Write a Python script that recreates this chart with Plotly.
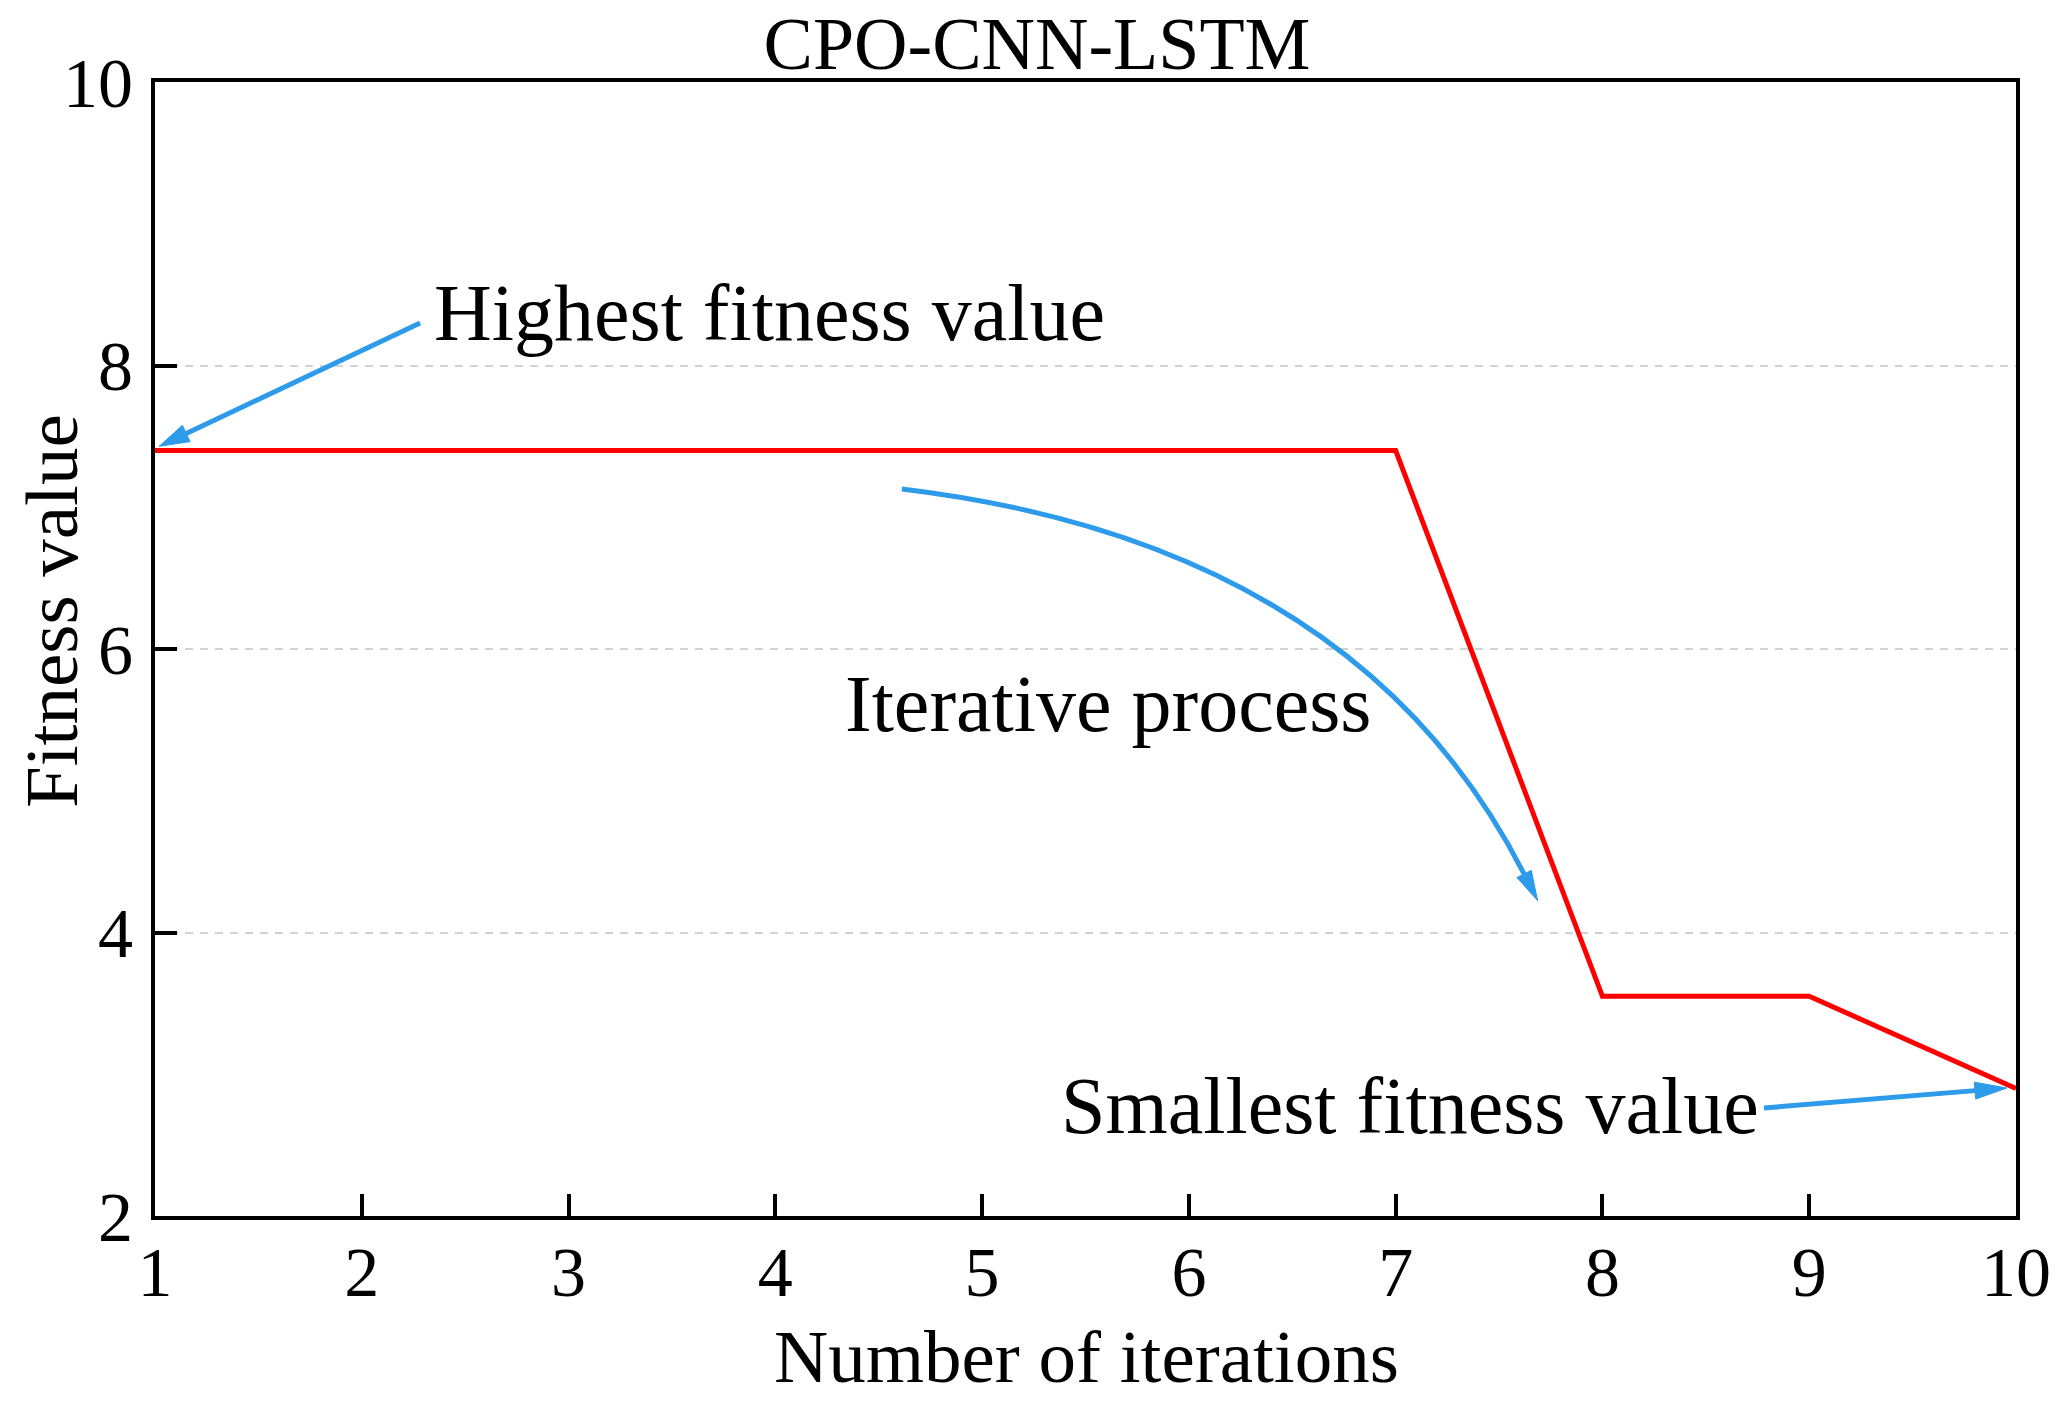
import numpy as np
import plotly.graph_objects as go

# ---- data ----
iterations = [1, 2, 3, 4, 5, 6, 7, 8, 9, 10]
fitness = [7.4, 7.4, 7.4, 7.4, 7.4, 7.4, 7.4, 3.55, 3.55, 2.9]
x_ticks = [1, 2, 3, 4, 5, 6, 7, 8, 9, 10]
y_ticks = [2, 4, 6, 8, 10]
title_text = "CPO-CNN-LSTM"
x_title = "Number of iterations"
y_title = "Fitness value"

FONT = "Times New Roman, Liberation Serif, serif"
BLUE = "#2e9bea"
W, H = 2062, 1403          # page body has an 8px margin
ML, MR, MT, MB = 147, 54, 74, 195
XR = [1, 10]
YR = [2, 10]
SX = (W - ML - MR) / (XR[1] - XR[0])   # px per x unit
SY = (H - MT - MB) / (YR[1] - YR[0])   # px per y unit


def head_shape(base, direction_px, length, half):
    """Filled triangular arrow head whose base centre is at `base` (data)."""
    u = np.array(direction_px, float)
    u /= np.linalg.norm(u)
    n = np.array([-u[1], u[0]])
    bx, by = base
    tip = (bx + u[0] * length / SX, by + u[1] * length / SY)
    c1 = (bx + n[0] * half / SX, by + n[1] * half / SY)
    c2 = (bx - n[0] * half / SX, by - n[1] * half / SY)
    path = f"M{tip[0]},{tip[1]} L{c1[0]},{c1[1]} L{c2[0]},{c2[1]} Z"
    return dict(type="path", xref="x", yref="y", path=path,
                fillcolor=BLUE, line=dict(color=BLUE, width=1))


def straight_arrow(tail, tip, length, half, width=5):
    d = np.array([(tip[0] - tail[0]) * SX, (tip[1] - tail[1]) * SY])
    u = d / np.linalg.norm(d)
    base = (tip[0] - u[0] * length / SX, tip[1] - u[1] * length / SY)
    return [
        dict(type="line", xref="x", yref="y", x0=tail[0], y0=tail[1],
             x1=base[0], y1=base[1], line=dict(color=BLUE, width=width)),
        head_shape(base, d, length, half),
    ]


shapes = []
# arrow to highest value
shapes += straight_arrow((2.282, 8.30), (1.02, 7.43), 30, 9)
# arrow to smallest value
shapes += straight_arrow((8.781, 2.762), (9.956, 2.903), 32, 8.5)
# curved "iterative process" arrow (cubic bezier)
P0, P1, P2, P3 = (4.612, 7.129), (6.063, 6.875), (7.074, 5.98), (7.621, 4.413)
shapes.append(dict(type="path", xref="x", yref="y",
                   path=f"M{P0[0]},{P0[1]} C{P1[0]},{P1[1]} {P2[0]},{P2[1]} {P3[0]},{P3[1]}",
                   line=dict(color=BLUE, width=5)))
tan = ((P3[0] - P2[0]) * SX, (P3[1] - P2[1]) * SY)
shapes.append(head_shape(P3, tan, 30, 8))

fig = go.Figure()
fig.add_trace(go.Scatter(x=iterations, y=fitness, mode="lines",
                         line=dict(color="#ff0000", width=5), showlegend=False))

ann_font = dict(family=FONT, size=80, color="black")
annotations = [
    dict(text="Highest fitness value", x=2.340, y=8.37, xref="x", yref="y",
         xanchor="left", yanchor="middle", showarrow=False, font=ann_font),
    dict(text="Iterative process", x=4.327, y=5.61, xref="x", yref="y",
         xanchor="left", yanchor="middle", showarrow=False, font=ann_font),
    dict(text="Smallest fitness value", x=8.767, y=2.775, xref="x", yref="y",
         xanchor="right", yanchor="middle", showarrow=False, font=ann_font),
    dict(text=x_title, x=0.5003, y=-0.1235, xref="paper", yref="paper",
         xanchor="center", yanchor="middle", showarrow=False,
         font=dict(family=FONT, size=75, color="black")),
    dict(text=y_title, x=-0.0559, y=0.5335, xref="paper", yref="paper",
         xanchor="center", yanchor="middle", textangle=-90, showarrow=False,
         font=dict(family=FONT, size=75, color="black")),
]

fig.update_layout(
    width=W, height=H, autosize=False,
    margin=dict(l=ML, r=MR, t=MT, b=MB),
    paper_bgcolor="white", plot_bgcolor="white",
    font=dict(family=FONT, color="black"),
    title=dict(text=title_text, x=1029 / W, xref="container", xanchor="center",
               y=(H - 35) / H, yref="container", yanchor="middle",
               font=dict(family=FONT, size=74, color="black")),
    shapes=shapes,
    annotations=annotations,
    xaxis=dict(range=XR, tickvals=x_ticks, ticktext=[str(v) for v in x_ticks],
               showline=True, linecolor="black", linewidth=4, mirror=True,
               ticks="inside", ticklen=22, tickwidth=4, tickcolor="black",
               ticklabelstandoff=-8,
               showgrid=False, zeroline=False,
               tickfont=dict(family=FONT, size=70, color="black")),
    yaxis=dict(range=YR, tickvals=y_ticks, ticktext=[str(v) for v in y_ticks],
               showline=True, linecolor="black", linewidth=4, mirror=True,
               ticks="inside", ticklen=22, tickwidth=4, tickcolor="black",
               ticklabelstandoff=4,
               showgrid=True, gridcolor="#d3d3d3", gridwidth=2, griddash="8px,7px",
               zeroline=False,
               tickfont=dict(family=FONT, size=70, color="black")),
)

fig.write_html("out.html")
